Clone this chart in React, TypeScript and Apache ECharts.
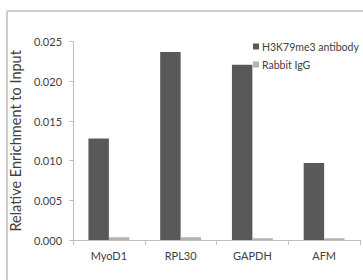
import React, { useEffect, useRef } from "react";
import * as echarts from "echarts";

const categories = ["MyoD1", "RPL30", "GAPDH", "AFM"];
const antibodyValues = [0.0128, 0.0237, 0.0221, 0.0097];
const iggValues = [0.00035, 0.00035, 0.00022, 0.00022];
const seriesNames = ["H3K79me3 antibody", "Rabbit IgG"];
const yTitle = "Relative Enrichment to Input";

export default function App() {
  const ref = useRef<HTMLDivElement>(null);
  useEffect(() => {
    if (!ref.current) return;
    const chart = echarts.init(ref.current, undefined, { renderer: "svg" });
    const font = "Lato, 'Open Sans', sans-serif";
    chart.setOption({
      animation: false,
      backgroundColor: "#ffffff",
      graphic: [
        {
          type: "line",
          silent: true,
          shape: { x1: 7, y1: 11, x2: 363, y2: 11 },
          style: { stroke: "#cccccc", lineWidth: 2 },
        },
        {
          type: "line",
          silent: true,
          shape: { x1: 7, y1: 11, x2: 7, y2: 280 },
          style: { stroke: "#cccccc", lineWidth: 2 },
        },
      ],
      legend: {
        orient: "vertical",
        left: 248,
        top: 36,
        itemWidth: 6,
        itemHeight: 6,
        itemGap: 7,
        icon: "rect",
        data: seriesNames,
        textStyle: { fontFamily: font, fontSize: 10.5, color: "#404040", padding: [0, 0, 0, -2] },
      },
      grid: { left: 72, right: 3, top: 41.7, bottom: 40, containLabel: false },
      xAxis: {
        type: "category",
        data: categories,
        axisLine: { lineStyle: { color: "#bfbfbf", width: 1 } },
        axisTick: { show: true, length: 5, lineStyle: { color: "#bfbfbf" } },
        axisLabel: { fontFamily: font, fontSize: 11, color: "#404040", margin: 10 },
      },
      yAxis: {
        type: "value",
        min: 0,
        max: 0.025,
        interval: 0.005,
        name: yTitle,
        nameLocation: "middle",
        nameGap: 50,
        nameTextStyle: { fontFamily: font, fontSize: 14.5, color: "#404040" },
        axisLine: { show: true, lineStyle: { color: "#bfbfbf", width: 1 } },
        axisTick: { show: true, length: 4, lineStyle: { color: "#bfbfbf" } },
        splitLine: { show: false },
        axisLabel: {
          fontFamily: font,
          fontSize: 11,
          color: "#404040",
          margin: 11,
          formatter: (v: number) => v.toFixed(3),
        },
      },
      series: [
        {
          name: seriesNames[0],
          type: "bar",
          data: antibodyValues,
          barWidth: "28.5%",
          barGap: "0%",
          itemStyle: { color: "#595959" },
        },
        {
          name: seriesNames[1],
          type: "bar",
          data: iggValues,
          barWidth: "28.5%",
          barGap: "0%",
          itemStyle: { color: "#b3b3b3" },
        },
      ],
    });
    return () => chart.dispose();
  }, []);
  return (
    <div
      ref={ref}
      style={{ position: "fixed", left: 0, top: 0, width: 363, height: 280 }}
    />
  );
}
